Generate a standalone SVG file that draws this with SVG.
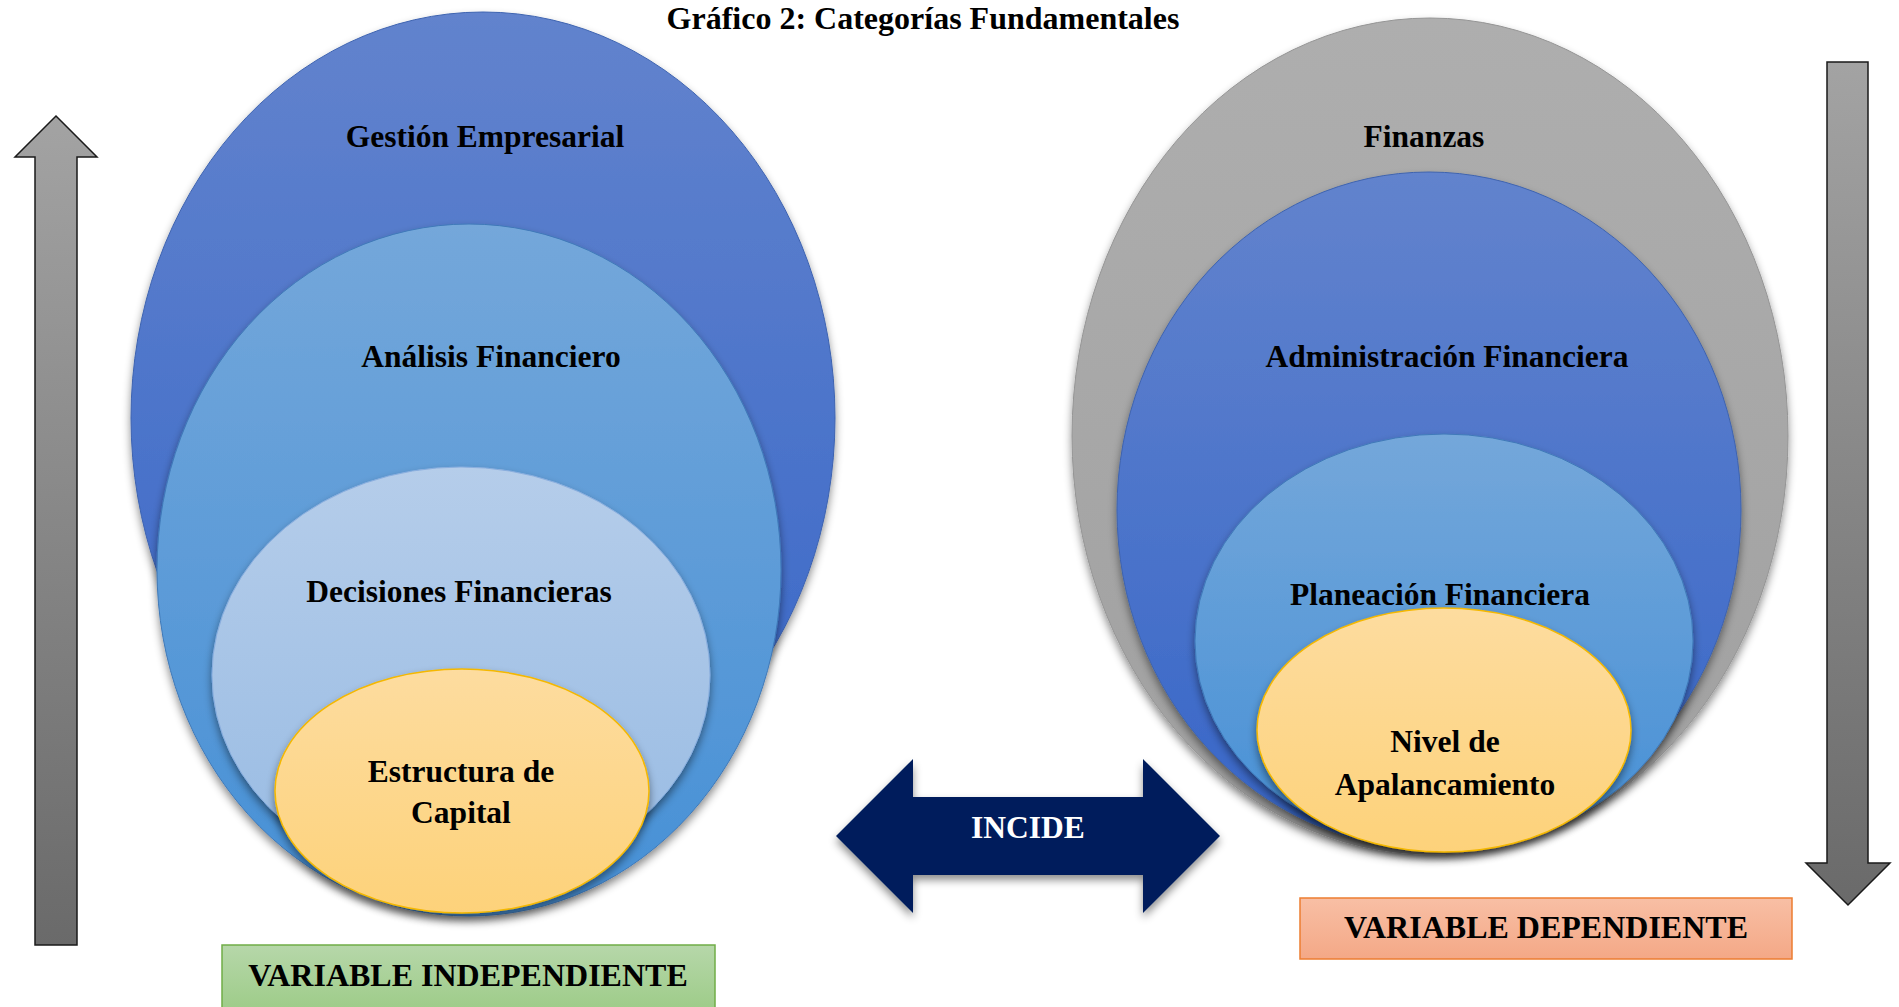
<svg xmlns="http://www.w3.org/2000/svg" width="1899" height="1007" viewBox="0 0 1899 1007">
  <style>
    .lbl { font-family: "Liberation Serif", "Times New Roman", serif; font-weight: bold; font-size: 31.5px; fill: #000; text-anchor: middle; }
    .ttl { font-size: 32px; }
    .var { font-size: 32px; }
    .inv { fill: #fff; }
    .ring { filter: url(#shadow); }
    .garrow { stroke: #1a1a1a; stroke-width: 1.5; stroke-linejoin: miter; }
  </style>
  <defs>
    <linearGradient id="gBlue" x1="0" y1="0" x2="0" y2="1">
      <stop offset="0" stop-color="#6283cd"/>
      <stop offset="1" stop-color="#3766c8"/>
    </linearGradient>
    <linearGradient id="gMid" x1="0" y1="0" x2="0" y2="1">
      <stop offset="0" stop-color="#74a7da"/>
      <stop offset="1" stop-color="#4690d6"/>
    </linearGradient>
    <linearGradient id="gLight" x1="0" y1="0" x2="0" y2="1">
      <stop offset="0" stop-color="#b5cdea"/>
      <stop offset="1" stop-color="#98bbe3"/>
    </linearGradient>
    <linearGradient id="gGold" x1="0" y1="0" x2="0" y2="1">
      <stop offset="0" stop-color="#fddc9f"/>
      <stop offset="1" stop-color="#fdd27a"/>
    </linearGradient>
    <linearGradient id="gGray" x1="0" y1="0" x2="0" y2="1">
      <stop offset="0" stop-color="#aeaeae"/>
      <stop offset="1" stop-color="#a0a0a0"/>
    </linearGradient>
    <linearGradient id="gShaft" x1="0" y1="0" x2="0" y2="1">
      <stop offset="0" stop-color="#a3a3a3"/>
      <stop offset="1" stop-color="#6a6a6a"/>
    </linearGradient>
    <linearGradient id="gGreen" x1="0" y1="0" x2="0" y2="1">
      <stop offset="0" stop-color="#b6d7a9"/>
      <stop offset="1" stop-color="#9ccb86"/>
    </linearGradient>
    <linearGradient id="gOrange" x1="0" y1="0" x2="0" y2="1">
      <stop offset="0" stop-color="#f8bfa5"/>
      <stop offset="1" stop-color="#f4a886"/>
    </linearGradient>
    <filter id="shadow" x="-10%" y="-10%" width="120%" height="125%">
      <feDropShadow dx="0" dy="5" stdDeviation="4" flood-color="#000" flood-opacity="0.45"/>
    </filter>
  </defs>

  <rect width="1899" height="1007" fill="#fff"/>

  <text class="lbl ttl" x="923" y="29">Gráfico 2: Categorías Fundamentales</text>

  <!-- vertical gray arrows -->
  <g id="arrow-up">
    <polygon class="garrow" fill="url(#gShaft)" points="56,116 97,157 77,157 77,945 35,945 35,157 15,157"/>
  </g>
  <g id="arrow-down">
    <polygon class="garrow" fill="url(#gShaft)" points="1827,62 1868,62 1868,863 1890,863 1848,905 1806,863 1827,863"/>
  </g>

  <!-- independent variable: nested ellipses -->
  <g id="gestion-empresarial">
    <ellipse class="ring" cx="483" cy="418" rx="352" ry="406" fill="url(#gBlue)" stroke="#3d63b0" stroke-width="1"/>
    <text class="lbl" x="485" y="147">Gestión Empresarial</text>
  </g>
  <g id="analisis-financiero">
    <ellipse class="ring" cx="469" cy="570" rx="312" ry="346" fill="url(#gMid)" stroke="#3f79b8" stroke-width="1"/>
    <text class="lbl" x="491" y="367">Análisis Financiero</text>
  </g>
  <g id="decisiones-financieras">
    <ellipse class="ring" cx="461" cy="675" rx="249" ry="208" fill="url(#gLight)" stroke="#8aaede" stroke-width="1"/>
    <text class="lbl" x="459" y="602">Decisiones Financieras</text>
  </g>
  <g id="estructura-de-capital">
    <ellipse class="ring" cx="462" cy="791" rx="187" ry="122" fill="url(#gGold)" stroke="#f5b800" stroke-width="1.5"/>
    <text class="lbl" x="461" y="782">Estructura de</text>
    <text class="lbl" x="461" y="823">Capital</text>
  </g>

  <!-- dependent variable: nested ellipses -->
  <g id="finanzas">
    <ellipse class="ring" cx="1430" cy="436" rx="358" ry="418" fill="url(#gGray)" stroke="#959595" stroke-width="1"/>
    <text class="lbl" x="1424" y="147">Finanzas</text>
  </g>
  <g id="administracion-financiera">
    <ellipse class="ring" cx="1429" cy="510" rx="312" ry="338" fill="url(#gBlue)" stroke="#3d63b0" stroke-width="1"/>
    <text class="lbl" x="1447" y="367">Administración Financiera</text>
  </g>
  <g id="planeacion-financiera">
    <ellipse class="ring" cx="1444" cy="641" rx="249" ry="207" fill="url(#gMid)" stroke="#3f79b8" stroke-width="1"/>
    <text class="lbl" x="1440" y="605">Planeación Financiera</text>
  </g>
  <g id="nivel-de-apalancamiento">
    <ellipse class="ring" cx="1444" cy="730" rx="187" ry="122" fill="url(#gGold)" stroke="#f5b800" stroke-width="1.5"/>
    <text class="lbl" x="1445" y="752">Nivel de</text>
    <text class="lbl" x="1445" y="795">Apalancamiento</text>
  </g>

  <!-- connector between the two sets -->
  <g id="connectors">
    <g id="incide">
      <polygon class="ring" fill="#001f5c" points="836,836 913,759 913,797 1143,797 1143,759 1220,836 1143,913 1143,875 913,875 913,913"/>
      <text class="lbl inv" x="1028" y="838">INCIDE</text>
    </g>
  </g>

  <!-- variable labels -->
  <g id="variable-independiente">
    <rect x="222" y="945" width="493" height="70" fill="url(#gGreen)" stroke="#70ad47" stroke-width="1.5"/>
    <text class="lbl var" x="468" y="986">VARIABLE INDEPENDIENTE</text>
  </g>
  <g id="variable-dependiente">
    <rect x="1300" y="898" width="492" height="61" fill="url(#gOrange)" stroke="#ed7d31" stroke-width="1.5"/>
    <text class="lbl var" x="1546" y="938">VARIABLE DEPENDIENTE</text>
  </g>
</svg>
